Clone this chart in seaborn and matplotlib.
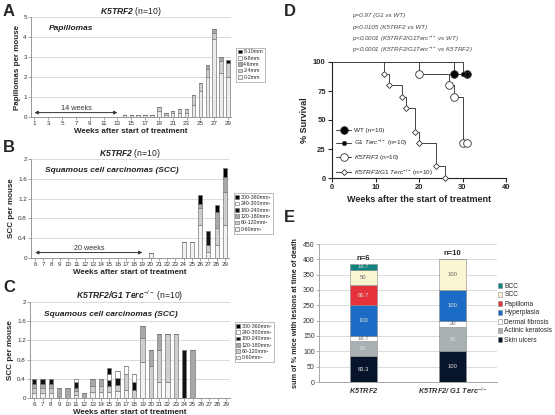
import numpy as np
import pandas as pd
import matplotlib
matplotlib.use('Agg')
import matplotlib.pyplot as plt
import seaborn as sns
from matplotlib.lines import Line2D
from matplotlib.ticker import FuncFormatter

sns.set_style('white')
plt.rcParams['font.family'] = ['Liberation Sans', 'DejaVu Sans']
plt.rcParams['mathtext.fontset'] = 'custom'
plt.rcParams['mathtext.rm'] = 'Liberation Sans'
plt.rcParams['mathtext.it'] = 'Liberation Sans:italic'
plt.rcParams['mathtext.bf'] = 'Liberation Sans:italic:bold'

# ==========================================================
# Data
# ==========================================================
# A - papillomas per mouse (K5TRF2), weeks 14-29
weeks_a = list(range(14, 30))
pap_0_2 = [0.1, 0.1, 0.1, 0.1, 0.1, 0.3, 0.1, 0.2, 0.2, 0.2, 0.6, 1.3, 2.0, 3.9, 2.2, 2.0]
pap_2_4 = [0, 0, 0, 0, 0, 0.2, 0.1, 0.1, 0.2, 0.2, 0.5, 0.4, 0.4, 0.3, 0.6, 0.7]
pap_4_6 = [0, 0, 0, 0, 0, 0, 0, 0, 0, 0, 0, 0, 0.2, 0.2, 0.2, 0]
pap_6_8 = [0, 0, 0, 0, 0, 0, 0, 0, 0, 0, 0, 0, 0, 0, 0, 0]
pap_8_10 = [0, 0, 0, 0, 0, 0, 0, 0, 0, 0, 0, 0, 0, 0, 0, 0.15]
sizes_a = ['8-10mm', '6-8mm', '4-6mm', '2-4mm', '0-2mm']

# B - SCC per mouse (K5TRF2)
weeks_b = [20, 24, 25, 26, 27, 28, 29]
b_0_60 = [0.1, 0.33, 0.33, 0.67, 0.13, 0.27, 0.67]
b_60_120 = [0, 0, 0, 0.33, 0.14, 0.33, 0.67]
b_120_180 = [0, 0, 0, 0.1, 0, 0.33, 0.3]
b_180_240 = [0, 0, 0, 0, 0.27, 0, 0]
b_240_300 = [0, 0, 0, 0, 0, 0, 0]
b_300_360 = [0, 0, 0, 0.17, 0, 0.14, 0.17]

# C - SCC per mouse (K5TRF2/G1 Terc-/-)
weeks_c = list(range(6, 26))
c_0_60 = [0.1, 0.1, 0.1, 0, 0, 0.07, 0, 0.13, 0.13, 0.12, 0.14, 0.17, 0, 0.75, 0, 0.33, 0.33, 0, 0, 0]
c_60_120 = [0.1, 0.1, 0.1, 0, 0, 0.07, 0, 0.13, 0.13, 0.13, 0.14, 0.33, 0.17, 0.5, 0.67, 0.67, 1.0, 1.33, 0, 0]
c_120_180 = [0.1, 0.1, 0.1, 0.2, 0.2, 0.06, 0.1, 0.14, 0.14, 0, 0, 0, 0, 0.25, 0.33, 0.33, 0, 0, 0, 1.0]
c_180_240 = [0.1, 0.1, 0.1, 0, 0, 0.13, 0, 0, 0, 0.12, 0.14, 0, 0.16, 0, 0, 0, 0, 0, 1.0, 0]
c_240_300 = [0, 0, 0, 0, 0, 0.07, 0, 0, 0, 0.13, 0.15, 0.17, 0.17, 0, 0, 0, 0, 0, 0, 0]
c_300_360 = [0, 0, 0, 0, 0, 0, 0, 0, 0, 0.13, 0, 0, 0, 0, 0, 0, 0, 0, 0, 0]
sizes_scc = ['300-360mm²', '240-300mm²', '180-240mm²', '120-180mm²', '60-120mm²', '0-60mm²']

# D - survival (step points)
wt_t, wt_s = [0, 28, 31], [100, 90, 90]
g1_t, g1_s = [0, 30, 31], [100, 90, 90]
k5_t, k5_s = [0, 20, 27, 28, 30, 31], [100, 90, 80, 70, 30, 30]
k5g1_t = [0, 12, 13, 16, 17, 19, 20, 24, 26]
k5g1_s = [100, 90, 80, 70, 60, 40, 30, 10, 0]

# E - lesions at time of death
lesoes = ['BCC', 'SCC', 'Papilloma', 'Hyperplasia', 'Dermal fibrosis', 'Actinic keratosis', 'Skin ulcers']
grupo_k5 = [16.7, 50, 66.7, 100, 16.7, 50, 83.3]
grupo_k5g1 = [0, 100, 0, 100, 20, 80, 100]
grupos = ['K5TRF2', 'K5TRF2/G1']
n_grupos = ['n=6', 'n=10']

# ==========================================================
# Figure helpers
# ==========================================================
W, H = 555, 415
fig = plt.figure(figsize=(W / 100, H / 100), dpi=100)


def eixo(l, r, t, b):
    return fig.add_axes([l / W, 1 - b / H, (r - l) / W, (b - t) / H])


def long_df(weeks, cols, names):
    linhas = []
    for nome, vals in zip(names, cols):
        for w, v in zip(weeks, vals):
            linhas.append({'week': w, 'size': nome, 'value': v})
    return pd.DataFrame(linhas)


def estilo_barras(ax, ymax, ystep):
    ax.set_ylim(0, ymax)
    ax.set_yticks(np.arange(0, ymax + 1e-9, ystep))
    ax.yaxis.set_major_formatter(FuncFormatter(lambda v, p: f"{v:g}"))
    ax.yaxis.grid(True, color='#d4d4d4', lw=0.6)
    ax.set_axisbelow(True)
    for s in ['top', 'right']:
        ax.spines[s].set_visible(False)
    for s in ['left', 'bottom']:
        ax.spines[s].set_color('#888888')
        ax.spines[s].set_linewidth(0.6)
    ax.tick_params(left=True, bottom=True, length=2, width=0.5, color='#888888',
                   labelsize=4.5, pad=1, labelcolor='#333333')


def legenda_barras(ax, y_anchor):
    sns.move_legend(ax, 'upper left', bbox_to_anchor=(1.01, y_anchor), title=None,
                    fontsize=3.8, frameon=True, handlelength=0.7, handleheight=0.7,
                    handletextpad=0.3, labelspacing=0.25, borderpad=0.35,
                    fancybox=False, edgecolor='#888888')
    ax.get_legend().get_frame().set_linewidth(0.5)


# ==========================================================
# A
# ==========================================================
cores_a = {'8-10mm': 'black', '6-8mm': 'white', '4-6mm': '#a6a6a6',
           '2-4mm': '#cfcfcf', '0-2mm': '#ececec'}
df_a = long_df(weeks_a, [pap_8_10, pap_6_8, pap_4_6, pap_2_4, pap_0_2], sizes_a)
ax_a = eixo(31, 231.5, 17, 117)
sns.histplot(data=df_a, x='week', weights='value', hue='size', hue_order=sizes_a,
             multiple='stack', discrete=True, shrink=0.5, palette=cores_a,
             edgecolor='#7a7a7a', linewidth=0.5, alpha=1, ax=ax_a)
estilo_barras(ax_a, 5, 1)
ax_a.set_xlim(0.5, 29.5)
ax_a.set_xticks(range(1, 30, 2))
ax_a.set_xlabel('Weeks after start of treatment', fontsize=5.8, fontweight='bold', labelpad=1)
ax_a.set_ylabel('Papillomas per mouse', fontsize=5.8, fontweight='bold', labelpad=2)
ax_a.set_title(r'$\mathbf{K5TRF2}$ (n=10)', fontsize=6.2, pad=2, color='#222222')
ax_a.text(0.09, 0.87, 'Papillomas', transform=ax_a.transAxes, fontsize=6,
          fontweight='bold', fontstyle='italic', color='#222222')
ax_a.annotate('', xy=(1, 0.22), xytext=(13, 0.22),
              arrowprops=dict(arrowstyle='<|-|>', color='#333333', lw=0.7,
                              mutation_scale=5, shrinkA=0, shrinkB=0))
ax_a.text(7, 0.26, '14 weeks', ha='center', va='bottom', fontsize=5.2, color='#333333')
legenda_barras(ax_a, 0.72)

# ==========================================================
# B e C
# ==========================================================
cores_scc = {'300-360mm²': 'black', '240-300mm²': 'white', '180-240mm²': '#111111',
             '120-180mm²': '#a8a8a8', '60-120mm²': '#cfcfcf', '0-60mm²': '#f2f2f2'}

df_b = long_df(weeks_b, [b_300_360, b_240_300, b_180_240, b_120_180, b_60_120, b_0_60], sizes_scc)
ax_b = eixo(31, 229, 159, 258)
sns.histplot(data=df_b, x='week', weights='value', hue='size', hue_order=sizes_scc,
             multiple='stack', discrete=True, shrink=0.5, palette=cores_scc,
             edgecolor='#7a7a7a', linewidth=0.5, alpha=1, ax=ax_b)
estilo_barras(ax_b, 2, 0.4)
ax_b.set_xlim(5.5, 29.5)
ax_b.set_xticks(range(6, 30))
ax_b.set_xlabel('Weeks after start of treatment', fontsize=5.8, fontweight='bold', labelpad=1)
ax_b.set_ylabel('SCC per mouse', fontsize=5.8, fontweight='bold', labelpad=2)
ax_b.set_title(r'$\mathbf{K5TRF2}$ (n=10)', fontsize=6.2, pad=2, color='#222222')
ax_b.text(0.07, 0.87, 'Squamous cell carcinomas (SCC)', transform=ax_b.transAxes,
          fontsize=6, fontweight='bold', fontstyle='italic', color='#222222')
ax_b.annotate('', xy=(6, 0.11), xytext=(19, 0.11),
              arrowprops=dict(arrowstyle='<|-|>', color='#333333', lw=0.7,
                              mutation_scale=5, shrinkA=0, shrinkB=0))
ax_b.text(12.5, 0.12, '20 weeks', ha='center', va='bottom', fontsize=5.2, color='#333333')
legenda_barras(ax_b, 0.68)

df_c = long_df(weeks_c, [c_300_360, c_240_300, c_180_240, c_120_180, c_60_120, c_0_60], sizes_scc)
ax_c = eixo(30, 230, 302, 398)
sns.histplot(data=df_c, x='week', weights='value', hue='size', hue_order=sizes_scc,
             multiple='stack', discrete=True, shrink=0.55, palette=cores_scc,
             edgecolor='#7a7a7a', linewidth=0.5, alpha=1, ax=ax_c)
estilo_barras(ax_c, 2, 0.4)
ax_c.set_xlim(5.5, 29.5)
ax_c.set_xticks(range(6, 30))
ax_c.set_xlabel('Weeks after start of treatment', fontsize=5.8, fontweight='bold', labelpad=1)
ax_c.set_ylabel('SCC per mouse', fontsize=5.8, fontweight='bold', labelpad=2)
ax_c.set_title(r'$\mathbf{K5TRF2/G1\ Terc}^{-/-}$ (n=10)', fontsize=6.2, pad=2, color='#222222')
ax_c.text(0.07, 0.85, 'Squamous cell carcinomas (SCC)', transform=ax_c.transAxes,
          fontsize=6, fontweight='bold', fontstyle='italic', color='#222222')
legenda_barras(ax_c, 0.82)

# ==========================================================
# D - sobrevivência
# ==========================================================
ax_d = eixo(332, 506, 62, 178)
curvas = [
    (wt_t, wt_s, 'o', 'black', 5.5, 'WT (n=10)'),
    (g1_t, g1_s, 'o', 'black', 3, r'G1 $\mathit{Terc}^{-/-}$ (n=10)'),
    (k5_t, k5_s, 'o', 'white', 5.5, r'$\mathit{K5TRF2}$ (n=10)'),
    (k5g1_t, k5g1_s, 'D', 'white', 3, r'$\mathit{K5TRF2/G1\ Terc}^{-/-}$ (n=10)'),
]
handles = []
for t, s, mk, fc, ms, lab in curvas:
    sns.lineplot(x=t, y=s, drawstyle='steps-post', color='#444444', lw=0.7,
                 estimator=None, sort=False, ax=ax_d, legend=False, clip_on=False)
    ax_d.plot(t[1:], s[1:], ls='none', marker=mk, mfc=fc, mec='#333333',
              mew=0.6, ms=ms, clip_on=False, zorder=5)
    handles.append(Line2D([], [], color='#444444', lw=0.7, marker=mk, mfc=fc,
                          mec='#333333', mew=0.6, ms=ms, label=lab))
ax_d.set_xlim(0, 40)
ax_d.set_ylim(0, 100)
ax_d.set_xticks([0, 10, 20, 30, 40])
ax_d.set_yticks([0, 25, 50, 75, 100])
for s in ['top', 'right']:
    ax_d.spines[s].set_visible(False)
for s in ['left', 'bottom']:
    ax_d.spines[s].set_linewidth(0.8)
    ax_d.spines[s].set_color('#222222')
ax_d.tick_params(left=True, bottom=True, direction='out', length=3, width=0.8,
                 labelsize=5.5, pad=1.5)
for lbl in ax_d.get_xticklabels() + ax_d.get_yticklabels():
    lbl.set_fontweight('bold')
ax_d.set_xlabel('Weeks after the start of treatment', fontsize=6.5, fontweight='bold', labelpad=3)
ax_d.set_ylabel('% Survival', fontsize=6.5, fontweight='bold', labelpad=3)
ax_d.legend(handles=handles, loc='upper left', bbox_to_anchor=(0.0, 0.47), frameon=False,
            fontsize=4.6, handlelength=2.4, labelspacing=0.8, handletextpad=0.5,
            borderaxespad=0.2)

pvals = ['p=0.97 (G1 vs WT)',
         'p<0.0105 (K5TRF2 vs WT)',
         r'p<0.0001 (K5TRF2/G1Terc$^{-/-}$ vs WT)',
         r'p<0.0001 (K5TRF2/G1Terc$^{-/-}$ vs K5TRF2)']
for i, txt in enumerate(pvals):
    fig.text(352 / W, 1 - (16 + i * 11.4) / H, txt, fontsize=4.5, fontstyle='italic',
             color='#444444', va='center')

# ==========================================================
# E - lesões
# ==========================================================
cores_e = {'BCC': '#11827f', 'SCC': '#fbf6d2', 'Papilloma': '#e5323b',
           'Hyperplasia': '#1a6cc4', 'Dermal fibrosis': 'white',
           'Actinic keratosis': '#a8b0b3', 'Skin ulcers': '#08142a'}
linhas_e = []
for g, vals in zip(grupos, [grupo_k5, grupo_k5g1]):
    for les, v in zip(lesoes, vals):
        linhas_e.append({'grupo': g, 'lesao': les, 'pct': v})
df_e = pd.DataFrame(linhas_e)

ax_e = eixo(319, 497, 244, 382)
sns.histplot(data=df_e, x='grupo', weights='pct', hue='lesao', hue_order=lesoes,
             multiple='stack', shrink=0.3, palette=cores_e, edgecolor='#8a8a8a',
             linewidth=0.4, alpha=1, ax=ax_e)
ax_e.set_ylim(0, 450)
ax_e.set_yticks(range(0, 451, 50))
ax_e.set_xlim(-0.5, 1.5)
ax_e.yaxis.grid(True, color='#d4d4d4', lw=0.6)
ax_e.set_axisbelow(True)
for s in ['top', 'right']:
    ax_e.spines[s].set_visible(False)
for s in ['left', 'bottom']:
    ax_e.spines[s].set_color('#999999')
    ax_e.spines[s].set_linewidth(0.6)
ax_e.tick_params(left=True, bottom=False, length=2, width=0.5, color='#999999',
                 labelsize=5, pad=1, labelcolor='#333333')
ax_e.set_xticks([0, 1])
ax_e.set_xticklabels([r'$\mathbf{K5TRF2}$', r'$\mathbf{K5TRF2/\ G1\ Terc}^{-/-}$'], fontsize=5.3)
ax_e.set_xlabel('')
ax_e.set_ylabel('sum of % mice with lesions at time of death', fontsize=5.2,
                fontweight='bold', labelpad=3)

for p in ax_e.patches:
    h = p.get_height()
    if h > 0.5:
        r, g, b, _ = p.get_facecolor()
        claro = (0.299 * r + 0.587 * g + 0.114 * b) > 0.75
        ax_e.text(p.get_x() + p.get_width() / 2, p.get_y() + h / 2, f"{round(h, 1):g}",
                  ha='center', va='center', fontsize=4.2,
                  color='#666666' if claro else '#dddddd')

totais = df_e.groupby('grupo', sort=False)['pct'].sum()
for i, (g, n) in enumerate(zip(grupos, n_grupos)):
    ax_e.text(i, totais[g] + 8, n, ha='center', va='bottom', fontsize=5.5, fontweight='bold')

sns.move_legend(ax_e, 'center left', bbox_to_anchor=(0.97, 0.5), title=None,
                fontsize=4.8, frameon=False, handlelength=0.7, handleheight=0.7,
                handletextpad=0.3, labelspacing=0.3)

# ==========================================================
# Panel letters
# ==========================================================
for letra, x, y in [('A', 3, 12), ('B', 3, 147), ('C', 3, 287), ('D', 284, 12), ('E', 284, 217)]:
    fig.text(x / W, 1 - y / H, letra, fontsize=12, fontweight='bold', va='center')

fig.savefig('out.png', dpi=100)
